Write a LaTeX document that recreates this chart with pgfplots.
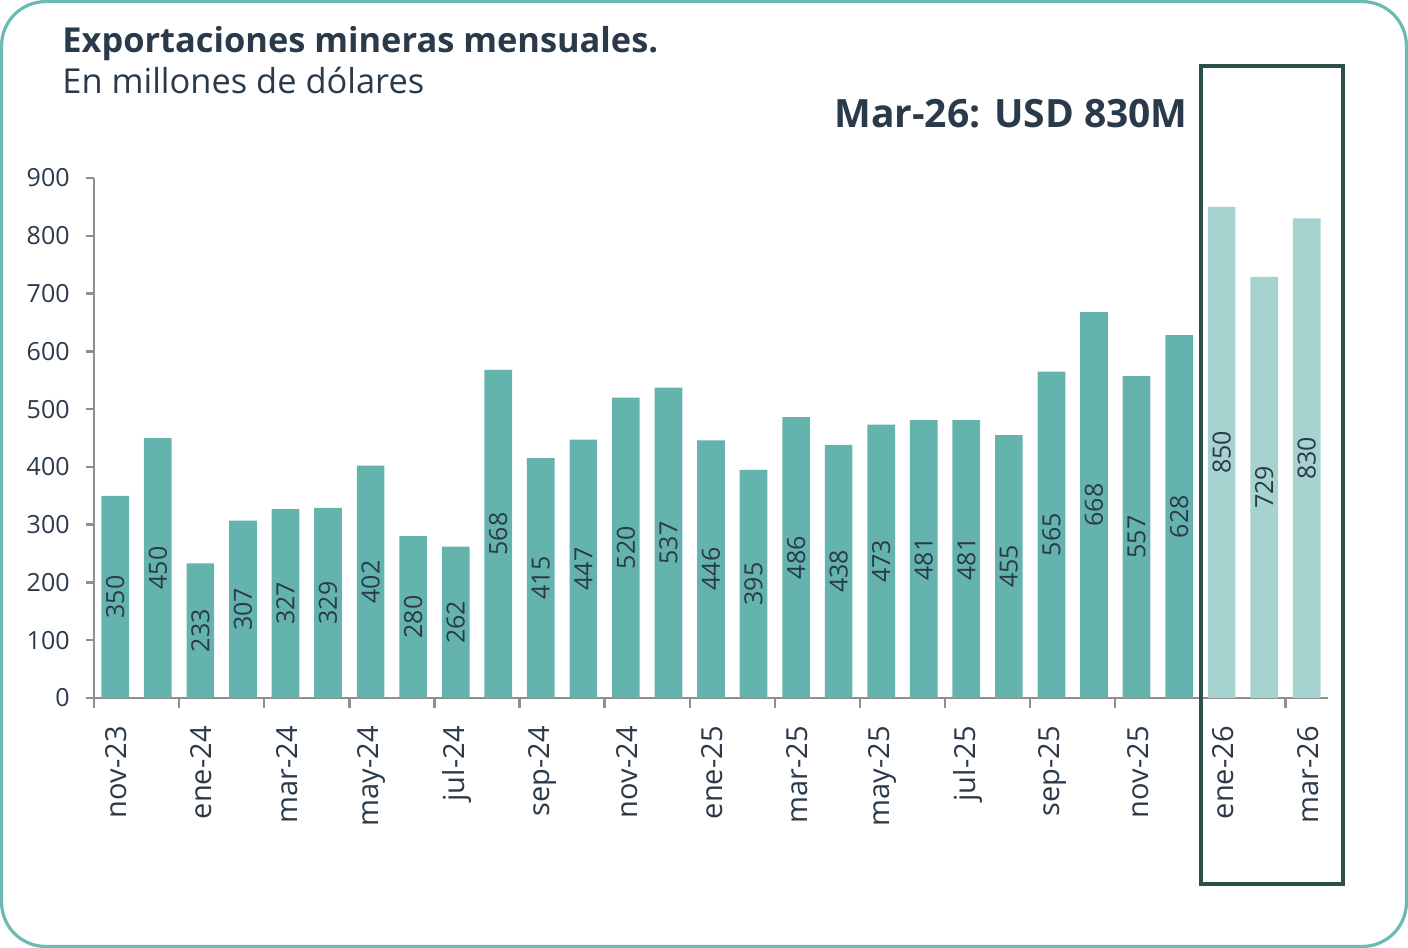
\documentclass[border=0pt]{standalone}
\usepackage{pgfplots}
\pgfplotsset{compat=1.18}
\usepackage{pgfplotstable}
\usepackage{fontspec}
\setmainfont{Open Sans}
\definecolor{barA}{HTML}{65B3AD}
\definecolor{barB}{HTML}{A6D2CF}
\definecolor{txt}{HTML}{2B3A4A}
\definecolor{axgray}{HTML}{8F8F8F}
\definecolor{boxc}{HTML}{2C4F4B}
\definecolor{framec}{HTML}{6DBAB2}

\pgfplotstableread{
x v
0 350
1 450
2 233
3 307
4 327
5 329
6 402
7 280
8 262
9 568
10 415
11 447
12 520
13 537
14 446
15 395
16 486
17 438
18 473
19 481
20 481
21 455
22 565
23 668
24 557
25 628
}\actual
\pgfplotstableread{
x v
26 850
27 729
28 830
}\proj

\begin{document}
\begin{tikzpicture}
\path[use as bounding box] (0,0) rectangle (704bp,474bp);
\draw[framec, line width=1.6bp, rounded corners=22bp] (0.8bp,0.8bp) rectangle (703.2bp,473.2bp);
\node[anchor=base west, text=txt, font=\fontsize{17.2bp}{18bp}\selectfont\bfseries, inner sep=0pt] at (31bp,447.5bp) {Exportaciones mineras mensuales.};
\node[anchor=base west, text=txt, font=\fontsize{17.2bp}{18bp}\selectfont, inner sep=0pt] at (31bp,427bp) {En millones de dólares};
\node[anchor=base east, text=txt, font=\fontsize{19.5bp}{21bp}\selectfont\bfseries, inner sep=0pt] at (594bp,410bp) {Mar-26: USD 830M};
\begin{axis}[
  at={(47bp,125bp)}, anchor=south west,
  scale only axis, width=617bp, height=260bp,
  xmin=-0.5, xmax=28.5, ymin=0, ymax=900,
  axis x line*=bottom, axis y line*=left,
  axis line style={axgray, line width=1.3bp},
  /pgf/number format/assume math mode=true,
  ytick={0,100,...,900},
  tick align=outside,
  major tick length=4bp,
  tick style={axgray, line width=1.2bp},
  xtick={0,2,...,28},
  xticklabels={nov-23,ene-24,mar-24,may-24,jul-24,sep-24,nov-24,ene-25,mar-25,may-25,jul-25,sep-25,nov-25,ene-26,mar-26},
  major x tick style={draw=none},
  extra x ticks={-0.5,1.5,...,27.5},
  extra x tick labels={},
  extra x tick style={major tick length=5bp, major x tick style={draw=axgray, line width=1.2bp}},
  xticklabel style={yshift=-10bp, xshift=0.6bp, rotate=90, anchor=east, inner sep=0pt, text=txt, font=\fontsize{14.5bp}{15bp}\selectfont},
  yticklabel style={xshift=-8bp, anchor=east, inner sep=0pt, text=txt, font=\fontsize{12.5bp}{13bp}\selectfont},
  clip=false,
  nodes near coords,
  visualization depends on={\thisrow{v} \as \vv},
  every node near coord/.append style={shift={(axis direction cs:0,-\vv/2)}, rotate=90, anchor=center, text=txt, font=\fontsize{12.5bp}{12.5bp}\selectfont},
]
\addplot[ybar, bar width=0.65, bar shift=0pt, fill=barA, draw=none] table[x=x, y=v] {\actual};
\addplot[ybar, bar width=0.65, bar shift=0pt, fill=barB, draw=none] table[x=x, y=v] {\proj};
\end{axis}
\draw[boxc, line width=1.7bp] (600.5bp,32bp) rectangle (671.5bp,441bp);
\end{tikzpicture}
\end{document}
